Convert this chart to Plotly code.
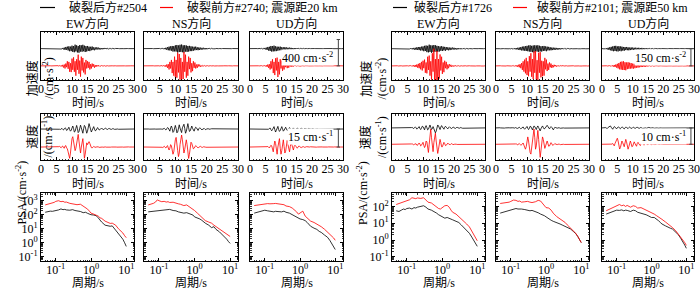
import numpy as np
import plotly.graph_objects as go

W, H = 700, 290
FONT = "'Liberation Serif', 'Times New Roman', 'Noto Sans CJK SC', serif"

# ---------------- data ----------------
DT = 0.25
COMPONENTS = ["EW", "NS", "UD"]
COMP_TITLES = ["EW方向", "NS方向", "UD方向"]

# ---- group 1: 破裂后方#2504 (black) / 破裂前方#2740 (red), 震源距20 km ----
acc_2504_EW = [0,0,1,0,-1,0,1,0,0,-1,1,0,-1,1,0,-1,1,-2,1,-1,
    2,-2,3,-3,2,-4,5,-6,10,-12,15,-20,25,-18,30,-28,35,-40,30,-38,
    45,-50,38,-55,60,-42,50,-58,40,-62,55,-45,50,-48,58,-40,45,-52,38,-44,
    40,-35,30,-38,28,-25,32,-22,20,-25,18,-15,20,-12,15,-14,10,-12,8,-10,
    9,-8,10,-6,7,-8,5,-6,4,-5,3,-4,3,-2,2,-3,2,-1,1,-2,
    1,-1,1,0,-1,1,0,-1,1,0,-1,0,1,0,-1,0,1,-1,0,1,0]
acc_2740_EW = [0,1,-1,0,1,-1,0,1,-1,1,0,-1,1,-1,0,1,-1,1,-1,0,
    2,-2,3,-4,5,-6,8,-10,15,-25,20,-40,35,-20,70,-45,60,-90,40,-95,
    110,-60,130,-90,70,-150,100,-60,170,-120,80,-165,140,-70,120,-100,50,-130,90,-40,
    70,-30,60,-55,25,-40,35,-15,25,-28,10,-15,12,-6,10,-8,4,-6,5,-2,
    4,-3,3,-4,2,-3,2,-2,1,-2,2,-1,1,-1,2,-1,1,-1,0,1,
    -1,1,0,-1,1,0,-1,1,0,-1,1,-1,0,1,-1,0,1,-1,0,1,0]
acc_2504_NS = [0,1,0,-1,1,0,-1,0,1,-1,0,1,-1,0,1,-1,2,-1,1,-2,
    2,-3,3,-4,5,-6,8,-10,14,-18,22,-25,30,-28,35,-32,40,-45,38,-42,
    50,-45,55,-60,48,-52,58,-50,62,-55,50,-58,52,-45,48,-50,40,-45,42,-38,
    35,-38,30,-32,28,-25,30,-22,20,-24,18,-20,15,-16,12,-14,13,-10,9,-11,
    8,-9,7,-6,6,-5,5,-4,3,-4,3,-2,2,-3,2,-1,1,-2,1,-1,
    1,0,-1,1,0,-1,0,1,-1,0,1,0,-1,1,0,-1,0,1,0,-1,0]
acc_2740_NS = [0,1,-1,0,1,-1,1,0,-1,1,-1,0,1,-1,1,0,-1,1,-1,1,
    -2,2,-3,4,-5,6,-8,10,-15,20,-30,25,-55,60,-40,90,-110,60,-150,140,
    -170,90,-180,200,-100,180,-210,120,-230,60,-200,210,-90,170,-180,60,-150,140,-50,120,
    -100,40,-80,70,-30,50,-40,20,-30,25,-10,18,-15,6,-10,8,-3,6,-5,2,
    -4,3,-3,2,-2,2,-1,2,-1,1,-2,1,-1,1,0,-1,1,-1,0,1,
    -1,0,1,-1,0,1,-1,0,1,-1,0,1,0,-1,1,0,-1,0,1,-1,0]
acc_2504_UD = [0,1,-1,0,1,-1,0,1,-1,1,-1,2,-2,3,-3,4,-5,6,-8,10,
    -12,15,-20,25,-30,28,-35,40,-45,38,-42,45,-40,35,-38,30,-32,28,-25,30,
    -25,22,-24,20,-18,22,-16,18,-15,14,-12,15,-10,12,-11,9,-10,8,-9,7,
    -6,7,-5,6,-5,4,-4,5,-3,4,-3,2,-3,2,-2,2,-1,2,-1,1,
    -1,1,-1,1,0,-1,1,0,-1,1,0,-1,1,0,-1,0,1,-1,0,1,
    0,-1,1,0,-1,0,1,-1,0,1,0,-1,1,0,-1,0,1,0,-1,0,0]
acc_2740_UD = [0,1,-1,0,1,-1,1,-1,0,1,-1,1,-1,2,-2,3,-3,4,-5,6,
    -8,10,-15,20,-30,25,-55,70,-40,100,-110,60,-140,115,-70,125,-170,60,-130,100,
    -40,80,-75,30,-55,50,-20,40,-35,15,-28,25,-10,18,-15,6,-10,9,-4,7,
    -6,5,-5,4,-4,3,-3,3,-2,2,-2,2,-1,1,-1,1,-1,1,0,-1,
    1,-1,0,1,-1,0,1,-1,0,1,-1,0,1,0,-1,1,0,-1,0,1,
    -1,0,1,0,-1,1,0,-1,0,1,-1,0,1,0,-1,0,1,-1,0,0,0]

vel_2504_EW = [0,0,0.1,0,-0.1,0,0.1,0,0,-0.1,0,0.1,0,-0.1,0,0.1,0,-0.1,0,0.1,
    0,-0.2,0.2,0.3,-0.2,-0.4,0.3,0.5,-0.3,-0.8,0.2,1.0,0.5,-1.2,-0.8,1.0,1.5,-0.5,-1.8,-1.0,
    1.5,2.5,0.5,-2.5,-2.0,1.8,3.0,0.5,-3.0,-2.2,1.5,3.2,1.0,-2.8,-3.5,0.2,3.0,2.0,-1.5,-3.5,
    -1.8,2.5,4.5,2.0,-1.0,-2.5,-1.0,1.5,2.0,0.0,-1.5,-1.2,0.5,1.2,0.3,-0.8,-0.6,0.4,0.8,0.1,
    -0.6,-0.5,0.3,0.7,0.2,-0.5,-0.4,0.3,0.5,0,-0.4,-0.3,0.2,0.4,0.1,-0.3,-0.2,0.2,0.3,0,
    -0.2,-0.2,0.1,0.2,0.1,-0.1,-0.2,0.1,0.2,0,-0.1,-0.1,0.1,0.1,0,-0.1,0,0.1,0,-0.1,0]
vel_2740_EW = [0,0,0.1,0,-0.1,0,0.1,0.1,0,-0.1,0,0.1,0,-0.1,0,0.1,0,-0.2,0,0.2,
    0.1,-0.2,-0.3,0.3,0.5,-0.3,-0.6,0.4,0.8,-0.5,-1.0,0.8,1.2,-0.8,-1.5,-4.0,-7.0,-9.4,-5.0,3.0,
    7.0,8.6,4.0,-1.0,-3.0,-1.0,4.0,9.0,10.5,5.0,-2.0,-5.0,0.0,5.0,7.0,0.0,-9.4,-6.0,1.0,3.5,
    2.0,4.0,4.5,3.0,0.5,-0.5,-0.8,0.2,0.5,0.1,-0.4,-0.3,0.2,0.4,0.1,-0.3,-0.2,0.2,0.3,0,
    -0.2,0,0.2,0.1,-0.1,-0.2,0,0.1,0.1,-0.1,-0.1,0,0.1,0,-0.1,0,0.1,0,-0.1,0,
    0.1,0,-0.1,0,0.1,0,-0.1,0,0.1,0,0,-0.1,0,0.1,0,-0.1,0,0.1,0,0,0]
vel_2504_NS = [0,0.1,0,-0.1,0,0.1,0,-0.1,0,0.1,0,-0.1,0,0.1,0,-0.1,0,0.1,0,-0.1,
    0,0.2,0,-0.3,-0.2,0.4,0.5,-0.3,-0.8,0.2,1.2,0.8,-1.5,-1.8,1.0,2.5,0.5,-2.8,-2.0,2.0,
    3.0,0.5,-3.2,-2.5,1.8,3.5,0.8,-2.5,-3.0,1.0,3.0,4.0,0.5,-3.5,-2.0,2.5,4.5,1.0,-2.0,-1.5,
    1.5,2.5,0.5,-1.5,-1.8,0.3,1.5,1.0,-0.8,-1.2,0.2,1.0,0.6,-0.5,-0.8,0,0.6,0.4,-0.3,-0.5,
    0,0.4,0.3,-0.2,-0.3,0,0.2,0.2,-0.1,-0.2,0,0.1,0.1,-0.1,-0.1,0,0.1,0,-0.1,0,
    0,0.1,0,-0.1,0,0.1,0,-0.1,0,0.1,0,-0.1,0,0,0.1,0,-0.1,0,0.1,0,0]
vel_2740_NS = [0,0,0.1,0,-0.1,0,0.1,0,-0.1,0,0.1,0,-0.1,0,0.1,0,-0.1,0,0.2,0,
    -0.2,0.1,0.3,-0.2,-0.4,0.3,0.6,-0.3,-0.8,0.5,1.2,-0.8,-2.5,-1.0,2.0,1.0,-3.0,-6.0,-4.0,2.0,
    6.0,8.0,4.0,-3.0,-8.0,-5.0,2.0,8.0,10.0,6.0,-1.0,-5.0,-2.0,3.0,6.0,2.0,-6.0,-9.5,-6.0,1.0,
    4.0,3.0,0.5,-1.5,-1.0,0.5,1.2,0.6,-0.4,-0.8,-0.2,0.5,0.6,0,-0.4,-0.3,0.2,0.3,0,-0.2,
    -0.2,0.1,0.2,0,-0.1,-0.1,0.1,0.1,0,-0.1,0,0.1,0,-0.1,0,0.1,0,-0.1,0,0.1,
    0,-0.1,0,0.1,0,-0.1,0,0.1,0,0,-0.1,0,0.1,0,-0.1,0,0.1,0,0,-0.1,0]
vel_2504_UD = [0,0,0.1,0,-0.1,0,0.1,0,-0.1,0,0.1,0,-0.1,0,0.1,0,-0.1,0,0.1,0,
    -0.1,0.2,0.1,-0.3,-0.2,0.5,0.8,-0.5,-1.5,-0.5,1.5,2.0,-0.5,-2.5,-1.0,1.8,2.2,-0.5,-2.0,-1.2,
    1.2,2.0,0.2,-1.8,-1.0,1.0,1.5,0,-1.2,-0.8,0.8,1.2,0.2,-1.0,-0.6,0.6,0.9,0,-0.8,-0.4,
    0.5,0.8,0,-0.6,-0.5,0.3,0.7,0.2,-0.5,-0.4,0.3,0.6,0.1,-0.4,-0.3,0.2,0.5,0.1,-0.3,-0.3,
    0.2,0.4,0,-0.3,-0.2,0.2,0.3,0,-0.2,-0.2,0.1,0.3,0,-0.2,-0.1,0.1,0.2,0,-0.2,-0.1,
    0.1,0.1,0,-0.1,-0.1,0.1,0.1,0,-0.1,0,0.1,0,-0.1,0,0.1,0,0,-0.1,0,0.1,0]
vel_2740_UD = [0,0,0.1,0,-0.1,0,0.1,0,-0.1,0,0.1,0,-0.1,0,0.1,0,-0.2,0,0.2,0.1,
    -0.2,-0.3,0.3,0.5,-0.2,-0.8,0.3,1.5,1.0,-2.0,-4.0,1.0,5.0,3.0,-3.0,-6.0,0.0,6.5,7.0,-1.0,
    -6.0,-3.0,4.0,6.0,0.5,-5.0,-3.5,2.0,5.5,2.0,-3.0,-4.0,0.5,3.5,2.0,-1.5,-2.5,0.5,1.5,0.8,
    -0.5,-1.0,0,0.8,0.5,-0.3,-0.6,0,0.4,0.3,-0.2,-0.4,0,0.3,0.2,-0.1,-0.3,0,0.2,0.1,
    -0.1,-0.2,0,0.2,0.1,-0.1,-0.1,0,0.1,0.1,-0.1,-0.1,0,0.1,0,-0.1,0,0.1,0,-0.1,
    0,0.1,0,-0.1,0,0.1,0,-0.1,0,0.1,0,0,-0.1,0,0.1,0,-0.1,0,0.1,0,0]

# ---- group 2: 破裂后方#1726 (black) / 破裂前方#2101 (red), 震源距50 km ----
acc_1726_EW = [0,0,1,-1,0,1,-1,0,1,0,-1,1,0,-1,1,0,-1,1,0,-1,
    2,-2,3,-3,4,-4,5,-6,7,-8,8,-10,12,-10,14,-12,15,-16,18,-15,
    20,-22,25,-20,28,-30,25,-32,35,-28,30,-35,28,-30,32,-25,30,-28,25,-27,
    22,-25,20,-18,22,-20,18,-15,16,-18,14,-12,12,-14,10,-12,9,-8,10,-7,
    8,-7,6,-7,5,-6,5,-4,4,-5,3,-4,3,-2,2,-3,2,-1,1,-2,
    1,-1,1,0,-1,1,0,-1,1,0,-1,0,1,0,-1,0,1,-1,0,1,0]
acc_2101_EW = [0,1,-1,0,1,-1,0,1,-1,1,0,-1,1,-1,0,1,-1,1,-1,0,
    1,-1,2,-2,3,-3,4,-5,6,-7,8,-10,12,-15,18,-20,25,-30,35,-40,
    45,-20,55,-60,30,-65,80,-35,90,-85,40,-120,110,-50,150,-140,60,-155,130,-160,
    60,-110,100,-40,80,-70,30,-55,45,-20,35,-30,12,-20,15,-6,10,-8,3,-6,
    5,-4,4,-3,3,-2,2,-2,1,-2,1,-1,1,-1,0,1,-1,1,0,-1,
    1,0,-1,1,0,-1,1,0,-1,0,1,-1,0,1,0,-1,1,0,-1,0,0]
acc_1726_NS = [0,1,-1,0,1,0,-1,1,0,-1,1,0,-1,1,0,-1,1,-1,2,-2,
    2,-3,3,-4,4,-5,6,-7,8,-9,10,-12,14,-15,18,-16,20,-18,22,-20,
    25,-22,28,-25,30,-27,25,-30,28,-32,30,-26,28,-25,30,-28,26,-24,22,-25,
    22,-20,24,-18,20,-22,18,-15,16,-14,12,-14,10,-12,9,-10,8,-9,7,-8,
    6,-7,5,-6,5,-4,4,-3,3,-4,2,-3,2,-2,1,-2,1,-1,1,-1,
    0,1,-1,0,1,0,-1,1,0,-1,0,1,-1,0,1,0,-1,0,1,0,0]
acc_2101_NS = [0,1,-1,0,1,-1,1,0,-1,1,-1,0,1,-1,1,0,-1,1,-1,1,
    -1,2,-2,3,-3,4,-5,6,-8,10,-12,15,-20,25,-35,40,-50,55,-65,70,
    -80,40,-90,85,-50,110,-95,60,-115,125,-60,130,-120,50,-125,115,-60,120,-100,45,
    -90,40,-85,70,-30,55,-45,20,-35,30,-12,20,-18,8,-12,10,-4,7,-6,3,
    -4,4,-3,3,-2,2,-2,1,-1,2,-1,1,-1,0,1,-1,0,1,-1,0,
    1,-1,0,1,-1,0,1,0,-1,1,0,-1,0,1,-1,0,1,0,-1,0,0]
acc_1726_UD = [1,-1,2,-2,3,-4,5,-6,8,-10,12,-14,16,-18,20,-22,24,-20,25,-22,
    20,-24,22,-18,20,-22,18,-16,15,-18,14,-12,15,-13,12,-14,10,-12,11,-9,
    10,-9,8,-10,9,-8,7,-9,8,-7,6,-8,7,-6,5,-6,5,-4,4,-5,
    4,-3,3,-4,3,-2,2,-3,2,-2,2,-1,1,-2,1,-1,1,-1,1,0,
    -1,1,0,-1,1,0,-1,1,0,-1,0,1,-1,0,1,0,-1,0,1,0,
    -1,0,1,0,-1,0,1,-1,0,1,0,-1,0,1,0,-1,0,1,0,-1,0]
acc_2101_UD = [0,1,-1,1,-1,0,1,-1,1,-1,2,-2,3,-4,5,-6,8,-10,12,-15,
    18,-22,25,-30,35,-32,38,-35,40,-36,32,-38,30,-28,32,-25,28,-24,25,-22,
    20,-24,18,-20,22,-16,18,-15,14,-12,13,-10,11,-9,10,-8,7,-8,6,-5,
    5,-4,4,-3,3,-3,2,-2,2,-1,1,-2,1,-1,1,0,-1,1,0,-1,
    1,0,-1,1,0,-1,0,1,-1,0,1,0,-1,0,1,-1,0,1,0,-1,
    0,1,-1,0,1,0,-1,0,1,-1,0,1,0,-1,0,1,0,-1,0,1,0]

vel_1726_EW = [0,0,0.1,0,-0.1,0,0.1,0,-0.1,0,0.1,0,-0.1,0,0.1,0,-0.1,0,0.1,0,
    -0.1,0.1,0.1,-0.1,-0.2,0.2,0.3,-0.2,-0.4,0.2,0.6,0.1,-0.7,-0.4,0.6,0.8,-0.3,-1.0,-0.2,1.0,
    0.8,-0.8,-1.2,0.6,1.4,0.2,-1.2,-0.8,1.2,1.8,0.4,-1.0,-0.5,0.8,-0.5,-2.0,-3.0,-2.0,0.5,1.8,
    1.2,-0.5,-1.0,0.5,1.4,0.6,-0.6,-0.8,0.4,1.0,0.4,-0.5,-0.6,0.2,0.7,0.2,-0.4,-0.4,0.2,0.5,
    0.1,-0.3,-0.3,0.2,0.4,0.1,-0.3,-0.2,0.2,0.3,0,-0.2,-0.2,0.1,0.2,0,-0.1,-0.1,0.1,0.1,
    0,-0.1,0,0.1,0,-0.1,0,0.1,0,-0.1,0,0.1,0,0,-0.1,0,0.1,0,0,-0.1,0]
vel_2101_EW = [0,0,0.1,0,-0.1,0,0.1,0,-0.1,0,0.1,0,-0.1,0,0.1,0,-0.1,0,0.1,0,
    -0.1,0.1,0.2,-0.1,-0.2,0.2,0.3,-0.2,-0.4,0.1,0.5,0.3,-0.5,-0.6,0.3,0.8,0.2,-1.0,-0.6,0.8,
    1.2,-0.5,-2.0,-1.0,2.0,1.5,-3.0,-5.0,0.0,6.0,9.3,4.0,-3.0,-4.5,1.0,5.0,6.8,2.0,-3.0,-5.6,
    -3.0,1.5,3.0,1.0,-1.5,-1.5,0.5,1.2,0.4,-0.8,-0.6,0.3,0.7,0.2,-0.4,-0.3,0.2,0.4,0,-0.3,
    -0.2,0.1,0.2,0,-0.1,-0.1,0.1,0.1,0,-0.1,0,0.1,0,-0.1,0,0.1,0,-0.1,0,0.1,
    0,-0.1,0,0.1,0,-0.1,0,0.1,0,0,-0.1,0,0.1,0,-0.1,0,0.1,0,0,-0.1,0]
vel_1726_NS = [0,0.1,0,-0.1,0,0.1,0,-0.1,0,0.1,0,-0.1,0,0.1,0,-0.1,0,0.1,0,-0.1,
    0,0.1,0.1,-0.1,-0.1,0.2,0.2,-0.2,-0.3,0.2,0.4,0,-0.5,-0.2,0.5,0.6,-0.2,-0.8,-0.3,0.8,
    0.9,-0.2,-1.0,-0.3,1.0,0.8,-0.5,-1.2,0,1.2,0.8,-0.8,-1.0,0.4,1.2,0.2,-1.5,-1.8,-0.5,0.8,
    1.2,0.3,-0.6,-0.4,0.6,1.2,1.6,0.8,-0.3,-0.6,0.2,0.8,0.3,-0.8,-1.2,-0.3,0.4,0.2,-0.2,-0.2,
    0.1,0.2,0,-0.2,-0.1,0.1,0.1,0,-0.1,-0.1,0.1,0.1,0,-0.1,0,0.1,0,-0.1,0,0,
    0.1,0,-0.1,0,0.1,0,-0.1,0,0.1,0,0,-0.1,0,0.1,0,-0.1,0,0.1,0,0,0]
vel_2101_NS = [0,0,0.1,0,-0.1,0,0.1,0,-0.1,0,0.1,0,-0.1,0,0.1,0,-0.1,0,0.1,0,
    -0.1,0.1,0.2,-0.1,-0.2,0.2,0.3,-0.2,-0.4,0.2,0.5,0,-0.6,-0.3,0.6,0.8,-0.5,-1.5,-3.0,-1.5,
    1.5,4.5,2.0,-2.0,-5.0,-6.0,-2.0,3.0,7.0,9.3,4.0,-3.0,-1.0,5.0,8.5,3.0,-5.0,-8.0,-4.0,1.0,
    4.5,3.0,-1.0,-2.5,-1.0,1.2,2.0,0.5,-1.2,-1.0,0.5,1.0,0.3,-0.6,-0.5,0.2,0.5,0.1,-0.3,-0.2,
    0.1,0.2,0,-0.2,-0.1,0.1,0.2,0,-0.1,-0.1,0.1,0.1,0,-0.1,0,0.1,0,-0.1,0,0.1,
    0,-0.1,0,0.1,0,-0.1,0,0.1,0,0,-0.1,0,0.1,0,-0.1,0,0.1,0,0,-0.1,0]
vel_1726_UD = [0,0.1,0,-0.1,0.1,0.2,-0.2,-0.3,0.3,0.5,0.8,1.2,0.4,-0.6,-0.8,0.2,0.8,0.5,-0.4,-0.6,
    0.1,0.6,0.4,-0.3,-0.5,0.1,0.6,0.3,-0.4,-0.6,0,0.5,0.3,-0.4,-0.4,0.2,0.5,0.1,-0.4,-0.3,
    0.2,0.4,0,-0.4,-0.2,0.3,0.4,0,-0.3,-0.2,0.2,0.3,0,-0.3,-0.2,0.2,0.3,0,-0.2,-0.2,
    0.1,0.3,0.1,-0.2,-0.2,0.1,0.2,0,-0.2,-0.1,0.1,0.2,0,-0.2,-0.1,0.1,0.2,0,-0.1,-0.1,
    0.1,0.1,0,-0.1,-0.1,0.1,0.1,0,-0.1,0,0.1,0,-0.1,0,0.1,0,0,-0.1,0,0.1,
    0,-0.1,0,0.1,0,-0.1,0,0.1,0,0,-0.1,0,0.1,0,-0.1,0,0.1,0,0,-0.1,0]
vel_2101_UD = [0,0,0.1,0,-0.1,0,0.1,0,-0.1,0,0.1,0,-0.2,0.1,0.5,-0.3,-1.0,0.5,1.5,2.0,
    3.7,2.0,-1.0,-2.9,-2.0,0.8,2.0,1.0,-1.0,-1.5,0.8,3.0,1.5,-1.5,-3.0,-1.5,1.0,2.0,0.5,-1.5,
    -1.2,0.8,1.5,0.5,-1.0,-1.2,0.5,1.2,0.3,-0.8,-0.8,0.4,0.8,0.2,-0.6,-0.5,0.3,0.6,0.1,-0.4,
    -0.3,0.2,0.4,0.1,-0.3,-0.3,0.2,0.3,0,-0.2,-0.2,0.1,0.3,0,-0.2,-0.1,0.1,0.2,0,-0.1,
    -0.1,0.1,0.1,0,-0.1,-0.1,0.1,0.1,0,-0.1,0,0.1,0,-0.1,0,0.1,0,-0.1,0,0.1,
    0,-0.1,0,0.1,0,-0.1,0,0.1,0,0,-0.1,0,0.1,0,-0.1,0,0.1,0,0,-0.1,0]

# ---- pseudo spectral acceleration (cm/s^2) ----
PERIOD = [0.05,0.06,0.07,0.08,0.09,0.10,0.12,0.14,0.16,0.18,0.20,0.25,0.30,0.35,0.40,0.50,0.60,0.70,
          0.80,0.90,1.0,1.2,1.4,1.6,1.8,2.0,2.5,3.0,3.5,4.0,5.0,6.0,7.0,8.0,9.0,10.0]
psa_2740_EW = [500,560,600,700,760,900,1000,850,900,780,800,650,620,560,520,560,420,330,250,180,130,110,95,80,60,55,35,30,24,25,18,10,7,5,3.2,2.3]
psa_2504_EW = [150,170,180,175,185,200,220,260,230,240,220,210,230,200,190,170,140,150,125,110,100,95,85,60,40,30,18,16,15,16,8,5,3,1.8,1.0,0.55]
psa_2740_NS = [500,560,650,800,1150,1000,850,900,800,850,750,780,650,600,560,450,500,380,300,260,200,130,90,60,45,38,30,25,18,14,9,7,5.5,4.2,3.4,2.8]
psa_2504_NS = [160,170,180,175,190,200,210,230,220,250,240,200,190,160,150,130,140,120,110,95,70,60,50,40,30,25,18,12,14,9,6,4,2.5,1.8,1.2,0.9]
psa_2740_UD = [450,480,520,580,560,600,620,600,650,620,640,580,560,520,420,380,300,230,160,110,130,180,80,55,45,35,28,22,18,14,9,6,4.5,3,2.2,1.5]
psa_2504_UD = [130,150,170,200,220,210,190,180,170,160,175,170,160,180,150,130,100,90,70,55,50,45,38,28,20,15,11,9,6.5,5.5,3.5,2.5,1.5,0.9,0.5,0.33]
psa_2101_EW = [130,150,165,180,200,220,250,330,300,290,320,300,330,240,180,160,120,90,75,70,80,110,115,90,60,45,35,25,18,15,9,6,3.5,2.2,1.4,0.9]
psa_1726_EW = [55,50,60,70,65,75,80,70,85,80,90,100,110,90,70,60,50,40,32,28,25,20,22,20,18,16,13,11,8,6,4,2.5,1.5,0.9,0.6,0.42]
psa_2101_NS = [150,160,170,165,180,200,240,230,200,210,180,190,200,180,170,190,230,210,150,110,85,80,60,40,30,25,18,14,11,8,5,3.5,2.5,1.6,1.0,0.7]
psa_1726_NS = [40,45,50,55,60,65,70,75,70,72,70,65,60,55,58,50,42,35,32,28,24,18,15,13,12,11,9,7.5,6.5,5.5,4.5,3.2,2.4,1.6,1.0,0.7]
psa_2101_UD = [55,65,80,90,100,110,130,110,120,100,115,90,110,100,80,85,70,60,55,50,45,35,28,24,20,17,12,9,7,5.5,3.5,2.2,1.5,1.0,0.7,0.48]
psa_1726_UD = [35,40,50,55,55,60,58,62,55,60,58,50,60,55,45,40,35,32,28,24,22,22,18,14,11,9,7,5.5,5,4.5,3,2.0,1.2,0.8,0.5,0.32]

LEGEND_1 = ("破裂后方#2504", "破裂前方#2740; 震源距20 km")
LEGEND_2 = ("破裂后方#1726", "破裂前方#2101; 震源距50 km")
SCALE_ACC = (400, 150)      # cm/s^2 scale bars
SCALE_VEL = (15, 10)        # cm/s scale bars

groups = [
    dict(acc_b=[acc_2504_EW, acc_2504_NS, acc_2504_UD], acc_r=[acc_2740_EW, acc_2740_NS, acc_2740_UD],
         vel_b=[vel_2504_EW, vel_2504_NS, vel_2504_UD], vel_r=[vel_2740_EW, vel_2740_NS, vel_2740_UD],
         psa_b=[psa_2504_EW, psa_2504_NS, psa_2504_UD], psa_r=[psa_2740_EW, psa_2740_NS, psa_2740_UD],
         legend=LEGEND_1, sacc=SCALE_ACC[0], svel=SCALE_VEL[0]),
    dict(acc_b=[acc_1726_EW, acc_1726_NS, acc_1726_UD], acc_r=[acc_2101_EW, acc_2101_NS, acc_2101_UD],
         vel_b=[vel_1726_EW, vel_1726_NS, vel_1726_UD], vel_r=[vel_2101_EW, vel_2101_NS, vel_2101_UD],
         psa_b=[psa_1726_EW, psa_1726_NS, psa_1726_UD], psa_r=[psa_2101_EW, psa_2101_NS, psa_2101_UD],
         legend=LEGEND_2, sacc=SCALE_ACC[1], svel=SCALE_VEL[1]),
]

# ---------------- layout geometry (pixels) ----------------
COLS = [[(41, 134), (144, 238), (250, 343)], [(392, 485), (496, 589), (602, 694)]]
ROW_ACC = (31.5, 80)
ROW_VEL = (114, 160)
ROW_PSA = (193, 261)
ACC_OFF = [262, 150]
ACC_RANGE = [[-215, 522], [-123, 300]]
VEL_OFF = [15, 10]
VEL_RANGE = [[-10.8, 27.5], [-9.6, 18.5]]
PSA_YRANGE = [[-1.3, 3.55], [-1.25, 2.8]]
PSA_XRANGE = [-1.42, 1.22]
LEG_X = [(40, 55, 67, 160, 173, 185), (393, 407, 412, 513, 527, 535)]
YLAB_X = [(23, 11), (374, 362)]

BLACK = "#000000"
RED = "#ff0000"
LW = 0.8

fig = go.Figure()
layout = {}
annotations = []
shapes = []
counter = [0]


def fx(px):
    return px / W


def fy(px):
    return 1 - px / H


def tfont(size=12):
    return dict(family=FONT, size=size, color="black")


def new_axes(xpx, ypx):
    counter[0] += 1
    i = counter[0]
    s = "" if i == 1 else str(i)
    return s, [fx(xpx[0]), fx(xpx[1])], [fy(ypx[1]), fy(ypx[0])]


BASE_AX = dict(showline=True, linecolor="black", linewidth=1, showgrid=False, zeroline=False,
               automargin=False, tickcolor="black", tickwidth=1, tickfont=tfont(12))

minor_log = [m * 10.0 ** k for k in range(-2, 4) for m in range(2, 10)]

for g, grp in enumerate(groups):
    for c in range(3):
        xpx = COLS[g][c]
        for kind, ypx, bk, rd, off, yr in (
            ("acc", ROW_ACC, grp["acc_b"][c], grp["acc_r"][c], ACC_OFF[g], ACC_RANGE[g]),
            ("vel", ROW_VEL, grp["vel_b"][c], grp["vel_r"][c], VEL_OFF[g], VEL_RANGE[g]),
        ):
            s, xd, yd = new_axes(xpx, ypx)
            tb = np.arange(len(bk)) * DT
            tr = np.arange(len(rd)) * DT
            fig.add_trace(go.Scatter(x=tb, y=np.array(bk, float) + off, mode="lines",
                                     line=dict(color=BLACK, width=LW), xaxis="x" + s, yaxis="y" + s,
                                     showlegend=False, hoverinfo="skip"))
            fig.add_trace(go.Scatter(x=tr, y=np.array(rd, float), mode="lines",
                                     line=dict(color=RED, width=LW), xaxis="x" + s, yaxis="y" + s,
                                     showlegend=False, hoverinfo="skip"))
            layout["xaxis" + s] = dict(BASE_AX, domain=xd, anchor="y" + s, range=[0, 30],
                                       tickmode="linear", tick0=0, dtick=5, ticks="inside", ticklen=3,
                                       mirror="allticks", ticklabelstandoff=-2,
                                       minor=dict(tick0=0, dtick=1, ticks="inside", ticklen=1.5,
                                                  tickcolor="black", tickwidth=0.8))
            layout["yaxis" + s] = dict(BASE_AX, domain=yd, anchor="x" + s, range=yr,
                                       showticklabels=False, ticks="", mirror=True)
            annotations.append(dict(text="时间/s", x=fx((xpx[0] + xpx[1]) / 2),
                                    y=fy(ypx[1] + (22.5 if kind == "acc" else 23.5)), xref="paper", yref="paper",
                                    showarrow=False, font=tfont(12), xanchor="center", yanchor="middle"))
            if kind == "acc":
                annotations.append(dict(text=COMP_TITLES[c], x=fx((xpx[0] + xpx[1]) / 2), y=fy(23),
                                        xref="paper", yref="paper", showarrow=False, font=tfont(12),
                                        xanchor="center", yanchor="middle"))
            if c == 2:
                sval = grp["sacc"] if kind == "acc" else grp["svel"]
                unit = "cm·s<sup>-2</sup>" if kind == "acc" else "cm·s<sup>-1</sup>"
                xb = 28.5 if g == 0 else 29.0
                cap = 0.55
                for (x0, x1, y0, y1) in ((xb, xb, 0, sval), (xb - cap, xb + cap, 0, 0),
                                         (xb - cap, xb + cap, sval, sval)):
                    shapes.append(dict(type="line", xref="x" + s, yref="y" + s, x0=x0, x1=x1,
                                       y0=y0, y1=y1, line=dict(color="#444444", width=1)))
                if g == 0:
                    ytxt = sval * (0.31 if kind == "acc" else 0.61)
                else:
                    ytxt = sval * (0.47 if kind == "acc" else 0.46)
                annotations.append(dict(text=f"{sval} {unit}", x=xb - (1.5 if g == 0 else 1.3),
                                        y=ytxt, xref="x" + s, yref="y" + s, showarrow=False,
                                        font=tfont(12), xanchor="right", yanchor="middle",
                                        bgcolor="white", borderpad=0))
        # ---------- PSA ----------
        s, xd, yd = new_axes(xpx, ROW_PSA)
        fig.add_trace(go.Scatter(x=PERIOD, y=grp["psa_b"][c], mode="lines",
                                 line=dict(color=BLACK, width=LW), xaxis="x" + s, yaxis="y" + s,
                                 showlegend=False, hoverinfo="skip"))
        fig.add_trace(go.Scatter(x=PERIOD, y=grp["psa_r"][c], mode="lines",
                                 line=dict(color=RED, width=LW), xaxis="x" + s, yaxis="y" + s,
                                 showlegend=False, hoverinfo="skip"))
        layout["xaxis" + s] = dict(BASE_AX, domain=xd, anchor="y" + s, type="log", range=PSA_XRANGE,
                                   tickmode="array", tickvals=[0.1, 1, 10],
                                   ticktext=["10<sup>-1</sup>", "10<sup>0</sup>", "10<sup>1</sup>"],
                                   ticks="inside", ticklen=3, mirror="allticks", ticklabelstandoff=-2,
                                   minor=dict(tickmode="array", tickvals=minor_log, ticks="inside",
                                              ticklen=1.5, tickcolor="black", tickwidth=0.8))
        yv = [0.1, 1, 10, 100, 1000]
        layout["yaxis" + s] = dict(BASE_AX, domain=yd, anchor="x" + s, type="log", range=PSA_YRANGE[g],
                                   tickmode="array", tickvals=yv,
                                   ticktext=["10<sup>-1</sup>", "10<sup>0</sup>", "10<sup>1</sup>",
                                             "10<sup>2</sup>", "10<sup>3</sup>"],
                                   showticklabels=(c == 0), ticks="inside", ticklen=3, mirror="allticks",
                                   minor=dict(tickmode="array", tickvals=minor_log, ticks="inside",
                                              ticklen=1.5, tickcolor="black", tickwidth=0.8))
        annotations.append(dict(text="周期/s", x=fx((xpx[0] + xpx[1]) / 2), y=fy(ROW_PSA[1] + 21.5),
                                xref="paper", yref="paper", showarrow=False, font=tfont(12),
                                xanchor="center", yanchor="middle"))

    xl2, xl1 = YLAB_X[g]
    annotations.append(dict(text="加速度<br>/(cm·s<sup>-2</sup>)", x=fx(xl2), y=fy(55.5), xref="paper",
                            yref="paper", showarrow=False, textangle=-90, font=tfont(12)))
    annotations.append(dict(text="速度<br>/(cm·s<sup>-1</sup>)", x=fx(xl2), y=fy(137), xref="paper",
                            yref="paper", showarrow=False, textangle=-90, font=tfont(12)))
    annotations.append(dict(text="PSA/(cm·s<sup>-2</sup>)", x=fx(xl1), y=fy(227), xref="paper",
                            yref="paper", showarrow=False, textangle=-90, font=tfont(12)))
    b0, b1, bt, r0, r1, rt = LEG_X[g]
    shapes.append(dict(type="line", xref="paper", yref="paper", x0=fx(b0), x1=fx(b1), y0=fy(7.5), y1=fy(7.5),
                       line=dict(color=BLACK, width=1.2)))
    shapes.append(dict(type="line", xref="paper", yref="paper", x0=fx(r0), x1=fx(r1), y0=fy(7.5), y1=fy(7.5),
                       line=dict(color=RED, width=1.2)))
    annotations.append(dict(text=grp["legend"][0], x=fx(bt), y=fy(7.5), xref="paper", yref="paper",
                            showarrow=False, font=tfont(12), xanchor="left", yanchor="middle"))
    annotations.append(dict(text=grp["legend"][1], x=fx(rt), y=fy(7.5), xref="paper", yref="paper",
                            showarrow=False, font=tfont(12), xanchor="left", yanchor="middle"))

fig.update_layout(**layout)
fig.update_layout(width=W, height=H, margin=dict(l=0, r=0, t=0, b=0), template="none",
                  paper_bgcolor="white", plot_bgcolor="white", showlegend=False,
                  annotations=annotations, shapes=shapes, font=dict(family=FONT, size=12, color="black"))
fig.write_html("out.html", config={"displayModeBar": False, "staticPlot": True},
               post_script="document.body.style.margin='0px';document.body.style.padding='0px';")
